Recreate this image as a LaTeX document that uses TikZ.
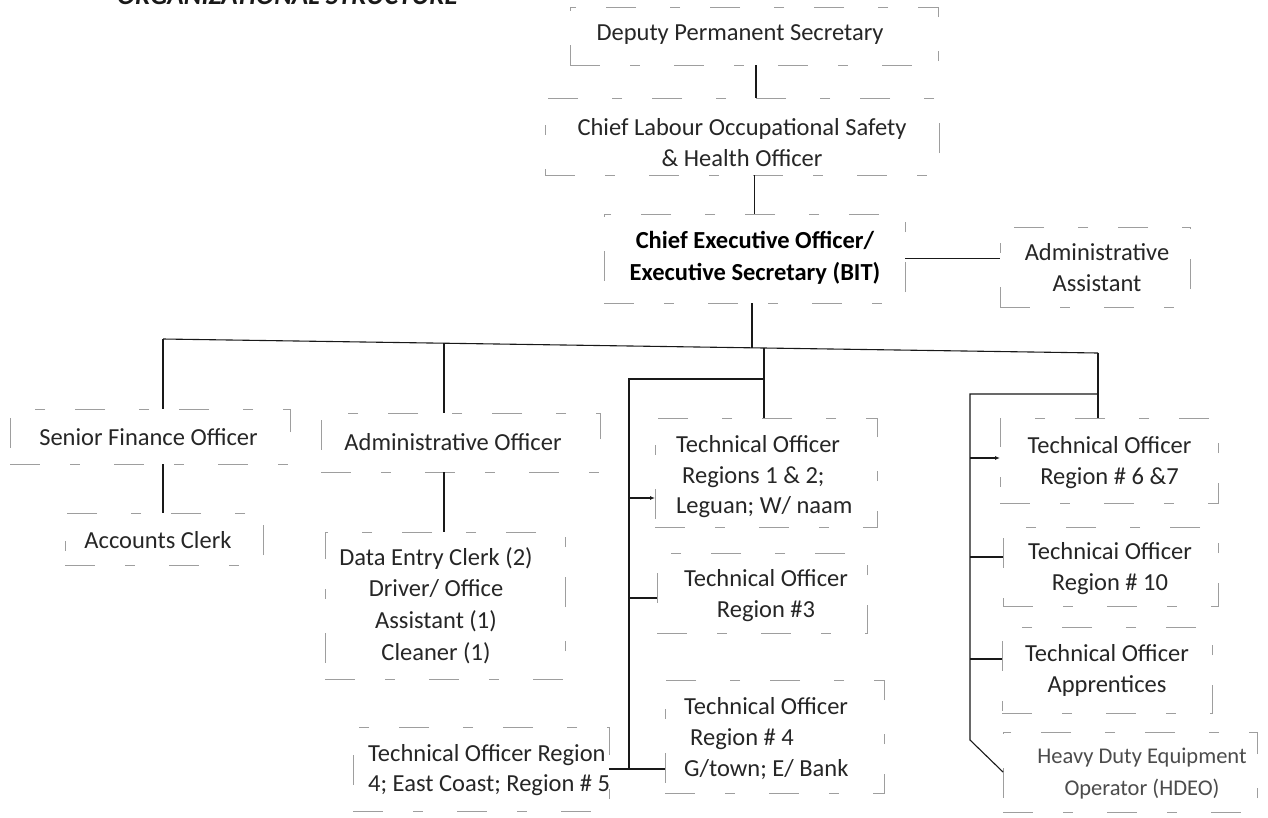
\documentclass[tikz,border=0pt]{standalone}
\usepackage{fontspec}
\setmainfont{Carlito}
\usetikzlibrary{arrows.meta}
\begin{document}
\begin{tikzpicture}[x=1pt,y=-1pt,
  box/.style={draw=black!38, line width=0.6pt, dash pattern=on 30pt off 30pt on 10pt off 34pt, inner sep=0pt, outer sep=0pt},
  txt/.style={font=\fontsize{24.5}{31}\selectfont, text=black!85, align=center, inner sep=0pt},
  link/.style={draw=black!90, line width=1.1pt},
  tip/.style={-{Latex[length=5pt,width=4pt]}}
]
\useasboundingbox (0,0) rectangle (1268,817);
\clip (0,0) rectangle (1268,817);
\fill[white] (0,0) rectangle (1268,817);

% title (cut off at the top edge, as in the scan)
\node[font=\fontsize{27}{30}\selectfont\bfseries\itshape, text=black!90, anchor=base west, inner sep=0pt] (title) at (117,4) {ORGANIZATIONAL STRUCTURE};

% boxes
\node[box, minimum width=368pt, minimum height=58pt] (dps) at (754,36) {};
\node[box, minimum width=394pt, minimum height=77pt] (clo) at (742,136.5) {};
\node[box, minimum width=301pt, minimum height=89pt] (ceo) at (754.5,258.5) {};
\node[box, minimum width=190pt, minimum height=80pt] (aa) at (1095,267) {};
\node[box, minimum width=280pt, minimum height=55pt] (sfo) at (150,436.5) {};
\node[box, minimum width=198pt, minimum height=52pt] (ac) at (164,539) {};
\node[box, minimum width=279pt, minimum height=59pt] (ao) at (460.5,442.5) {};
\node[box, minimum width=240pt, minimum height=147pt] (dec) at (445,605.5) {};
\node[box, minimum width=222pt, minimum height=109pt] (r12) at (766,472.5) {};
\node[box, minimum width=210pt, minimum height=80pt] (r3) at (762,593) {};
\node[box, minimum width=219pt, minimum height=113pt] (r4) at (774.5,736.5) {};
\node[box, minimum width=256pt, minimum height=84pt] (r45) at (481,769) {};
\node[box, minimum width=218pt, minimum height=85pt] (r67) at (1109,460.5) {};
\node[box, minimum width=215pt, minimum height=79pt] (r10) at (1110.5,566.5) {};
\node[box, minimum width=210pt, minimum height=86pt] (app) at (1107,670) {};
\node[box, minimum width=254pt, minimum height=80pt] (hdeo) at (1130,772) {};

% texts
\node[txt] (tdps) at (740,35) {Deputy Permanent Secretary};
\node[txt] (tclo) at (742,143) {Chief Labour Occupational Safety\\\& Health Officer};
\node[txt, font=\fontsize{24.5}{32}\selectfont\bfseries, text=black] (tceo) at (755,258) {Chief Executive Officer/\\Executive Secretary (BIT)};
\node[txt] (taa) at (1097,268) {Administrative\\Assistant};
\node[txt] (tsfo) at (148.5,437) {Senior Finance Officer};
\node[txt] (tac) at (158,540) {Accounts Clerk};
\node[txt] (tao) at (453,442) {Administrative Officer};
\node[txt, font=\fontsize{24.5}{31.7}\selectfont] (tdec) at (436,605.5) {Data Entry Clerk (2)\\Driver/ Office\\Assistant (1)\\Cleaner (1)};
\node[txt, align=left, anchor=west, font=\fontsize{24.5}{30.5}\selectfont] (tr12) at (676,477) {Technical Officer\\\hspace*{6pt}Regions 1 \& 2;\\Leguan; W/ naam};
\node[txt] (tr3) at (766,595.5) {Technical Officer\\Region \#3};
\node[txt, align=left, anchor=west] (tr4) at (684,739) {Technical Officer\\\hspace*{6pt}Region \# 4\\G/town; E/ Bank};
\node[txt, align=left, anchor=west, font=\fontsize{24.5}{30}\selectfont] (tr45) at (368,770) {Technical Officer Region\\4; East Coast; Region \# 5};
\node[txt] (tr67) at (1109.5,462.5) {Technical Officer\\Region \# 6 \&7};
\node[txt] (tr10) at (1110,568.5) {Technicai Officer\\Region \# 10};
\node[txt] (tapp) at (1107,670.5) {Technical Officer\\Apprentices};
\node[txt, font=\fontsize{22.5}{32}\selectfont, text=black!70] (thdeo) at (1142,774) {Heavy Duty Equipment\\Operator (HDEO)};

% connectors
\draw[link] ([xshift=2pt]dps.south) -- ([xshift=2pt]dps.south |- clo.north);
\draw[link] (ceo.north |- clo.south) -- (ceo.north);
\draw[link] (ceo.east) -- (ceo.east -| aa.west);

\coordinate (busL) at (163,339);
\coordinate (busR) at (1098,353);
\coordinate (busAO) at (444,343.2);
\coordinate (busC) at (752,347.8);
\coordinate (busM) at (764,348);
\draw[link] (busL) -- (busR);
\draw[link] (busC |- ceo.south) -- (busC);
\draw[link] (busL) -- (busL |- sfo.north);
\draw[link] (busAO) -- (busAO |- ao.north);
\draw[link] (busM) -- (busM |- r12.north);
\draw[link] (busR) -- (busR |- r67.north);
\draw[link] (busL |- sfo.south) -- (busL |- ac.north);
\draw[link] (busAO |- ao.south) -- (busAO |- dec.north);

\coordinate (mJ) at (764,379);
\coordinate (mC) at (629,379);
\draw[link] (mJ) -- (mC) -- (mC |- r45.east);
\draw[link] (r45.east) -- (r45.east -| r4.west);
\coordinate (mA) at (629,498);
\coordinate (mB) at (629,598);
\draw[link, tip] (mA) -- (mA -| r12.west);
\draw[link] (mB) -- (mB -| r3.west);

\coordinate (rJ) at (1098,394);
\coordinate (rC) at (970,394);
\coordinate (rD) at (970,740);
\draw[link] (rJ) -- (rC) -- (rD) -- (hdeo.west);
\coordinate (rA) at (970,458);
\coordinate (rB) at (970,557);
\coordinate (rE) at (970,659);
\draw[link, tip] (rA) -- (rA -| r67.west);
\draw[link] (rB) -- (rB -| r10.west);
\draw[link] (rE) -- (rE -| app.west);
\end{tikzpicture}
\end{document}
